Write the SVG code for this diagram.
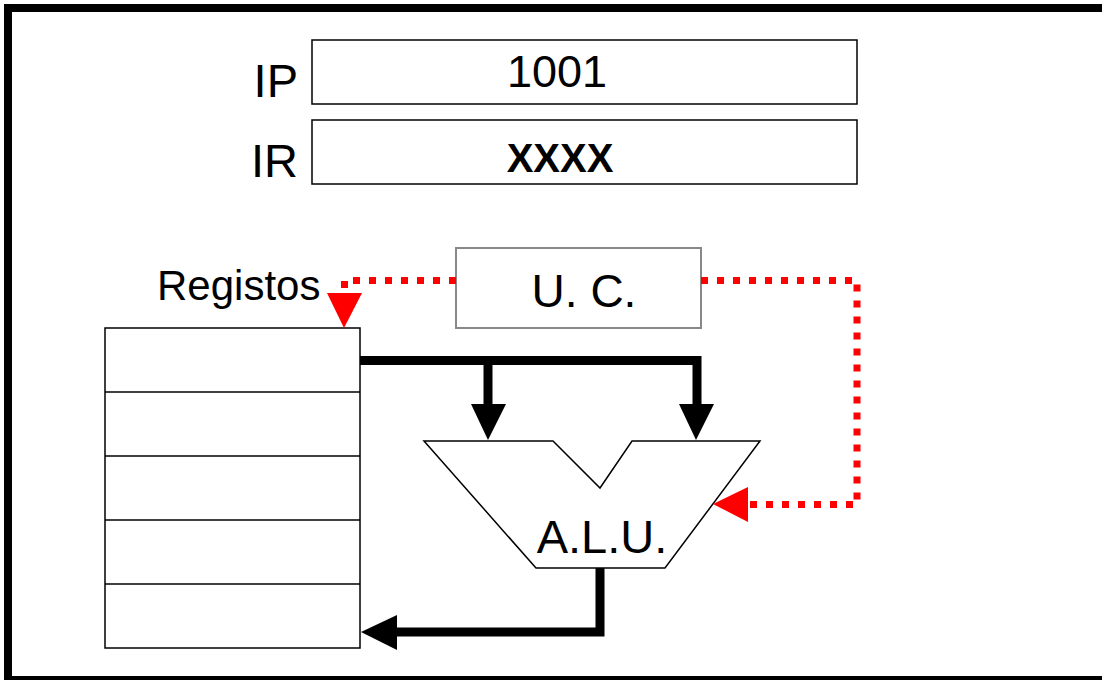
<svg xmlns="http://www.w3.org/2000/svg" width="1102" height="680" viewBox="0 0 1102 680">
<style>
text{font-family:"Liberation Sans",Arial,sans-serif;fill:#000}
.box{fill:#fff;stroke:#000;stroke-width:1.5}
.bus{fill:none;stroke:#000;stroke-width:9;stroke-linejoin:miter}
.ctl{fill:none;stroke:#f00;stroke-width:7;stroke-dasharray:7 9}
.ah{fill:#000}
.rh{fill:#f00}
</style>
<rect width="1102" height="680" fill="#fff"/>
<rect x="8" y="8" width="1110" height="672" fill="none" stroke="#000" stroke-width="8"/>
<g id="ip">
<text x="298" y="97" font-size="47" text-anchor="end">IP</text>
<rect class="box" x="312" y="40" width="545" height="64"/>
<text x="557" y="87" font-size="45" text-anchor="middle">1001</text>
</g>
<g id="ir">
<text x="298" y="177" font-size="47" text-anchor="end">IR</text>
<rect class="box" x="312" y="120" width="545" height="64"/>
<text x="560" y="172" font-size="40" font-weight="bold" text-anchor="middle">XXXX</text>
</g>
<g id="uc">
<rect x="456" y="248" width="245" height="80" fill="#fff" stroke="#888" stroke-width="2"/>
<text x="584" y="307" font-size="46" text-anchor="middle">U. C.</text>
</g>
<g id="registos">
<text x="157" y="300" font-size="42">Registos</text>
<rect class="box" x="105" y="328" width="255" height="320"/>
<line x1="105" y1="392" x2="360" y2="392" stroke="#000" stroke-width="1.5"/>
<line x1="105" y1="456" x2="360" y2="456" stroke="#000" stroke-width="1.5"/>
<line x1="105" y1="520" x2="360" y2="520" stroke="#000" stroke-width="1.5"/>
<line x1="105" y1="584" x2="360" y2="584" stroke="#000" stroke-width="1.5"/>
</g>
<g id="alu">
<polygon points="424,441 553,441 600,488 632,441 760,441 665,568 536,568" fill="#fff" stroke="#000" stroke-width="1.5"/>
<text x="602" y="553" font-size="47" text-anchor="middle">A.L.U.</text>
</g>
<g id="connectors">
<path class="bus" d="M360,360.5 H697 V405"/>
<path class="bus" d="M488,360.5 V405"/>
<polygon class="ah" points="471,404 506,404 488,440"/>
<polygon class="ah" points="679,404 714,404 696,440"/>
<path class="bus" d="M600,568 V632 H396"/>
<polygon class="ah" points="397,615 397,650 361,632"/>
<path class="ctl" d="M456,280.5 H344.5 V294"/>
<polygon class="rh" points="327,293 362,293 344,328"/>
<path class="ctl" d="M701,280.5 H857 V504.5 H748"/>
<polygon class="rh" points="748,487 748,522 713,504"/>
</g>
</svg>
